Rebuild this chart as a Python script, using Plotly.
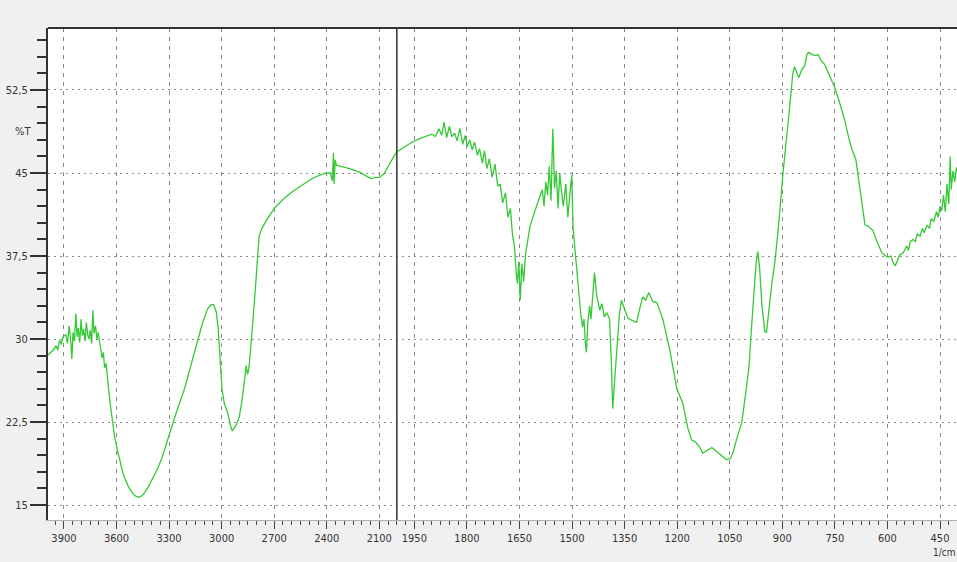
import plotly.graph_objects as go

# FTIR spectrum: wavenumber (1/cm) and transmittance (%T)
wavenumber = [
    3995, 3975, 3960, 3945, 3935, 3925, 3915, 3905, 3890, 3880, 3870, 3862, 3855, 3848,
    3840, 3832, 3825, 3818, 3810, 3802, 3795, 3788, 3780, 3772, 3765, 3757, 3750, 3742,
    3735, 3728, 3720, 3712, 3705, 3697, 3690, 3682, 3675, 3668, 3660, 3652, 3645, 3638,
    3630, 3622, 3612, 3600, 3590, 3580, 3565, 3550, 3530, 3510, 3490, 3470, 3450, 3420,
    3390, 3365, 3340, 3300, 3260, 3212, 3175, 3138, 3110, 3081, 3060, 3045, 3030, 3020,
    3010, 2998, 2985, 2965, 2950, 2940, 2930, 2915, 2900, 2885, 2870, 2860, 2852, 2845,
    2836, 2826, 2815, 2803, 2795, 2786, 2770, 2746, 2720, 2700, 2650, 2597, 2550, 2483,
    2440, 2404, 2380, 2368, 2362, 2358, 2352, 2345, 2319, 2270, 2216, 2180, 2148, 2120,
    2100, 2074, 2050, 2030, 2017, 2000,
    1980, 1956, 1935, 1916, 1900, 1890, 1880, 1872, 1865, 1858, 1850, 1843, 1835, 1828,
    1820, 1812, 1805, 1799, 1792, 1785, 1778, 1770, 1764, 1756, 1750, 1743, 1736, 1728,
    1720, 1712, 1705, 1698, 1690, 1683, 1676, 1670, 1664, 1660, 1656, 1652, 1648, 1643,
    1638, 1633, 1627, 1620, 1610, 1600, 1593, 1585, 1580, 1575, 1570, 1565, 1560, 1555,
    1550, 1545, 1540, 1535, 1530, 1525, 1518, 1512, 1506, 1501, 1497, 1493, 1486, 1480,
    1475, 1470, 1466, 1462, 1459, 1455, 1450, 1446, 1441, 1436, 1430, 1425, 1421, 1415,
    1408, 1401, 1393, 1388, 1384, 1379, 1373, 1365, 1359, 1352, 1346, 1341, 1330, 1316,
    1305, 1298, 1290, 1281, 1270, 1258, 1241, 1221, 1201, 1184, 1170, 1159, 1148, 1137,
    1127, 1115, 1101, 1090, 1075, 1059, 1048, 1040, 1030, 1016, 1005, 995, 988, 982,
    975, 970, 965, 958, 950, 945, 938, 930, 921, 910, 898, 888, 878, 870,
    865, 858, 853, 845, 836, 830, 825, 815, 805, 798, 790, 779, 765, 750,
    736, 722, 710, 701, 690, 680, 673, 664, 655, 641, 630, 616, 605, 598,
    590, 585, 578, 573, 565, 555, 545, 540, 535, 527, 520, 515, 507, 500,
    495, 487, 480, 475, 468, 460, 455, 450, 445, 440, 435, 430, 425, 421,
    418, 413, 408, 403, 400,
]
transmittance = [
    28.5, 28.8, 29.0, 29.4, 29.0, 29.9, 29.5, 30.2, 30.4, 29.6, 31.2, 30.0, 28.2, 30.6,
    29.8, 32.3, 30.2, 31.0, 29.7, 31.8, 30.3, 30.9, 29.8, 31.5, 30.4, 30.0, 30.8, 29.6,
    32.6, 30.5, 31.2, 30.0, 30.6, 29.8, 29.0, 28.3, 28.8, 27.4, 27.8, 26.2, 25.5, 24.4,
    23.2, 22.5, 21.3, 20.2, 19.6, 19.0, 18.0, 17.3, 16.6, 16.1, 15.8, 15.7, 15.9, 16.6,
    17.5, 18.3, 19.3, 21.4, 23.3, 25.5, 27.6, 29.9, 31.4, 32.7, 33.1, 33.1, 32.4, 31.0,
    28.5, 25.5, 24.2, 23.3, 22.2, 21.7, 21.9, 22.3, 22.9, 24.3, 26.2, 27.6, 26.8, 27.3,
    28.8, 30.5, 33.0, 35.5, 37.8, 39.3, 40.0, 40.7, 41.3, 41.8, 42.6, 43.3, 43.8, 44.5,
    44.8, 45.0, 45.0, 44.3, 46.8, 44.0, 46.2, 45.7, 45.6, 45.4, 45.1, 44.8, 44.5, 44.6,
    44.6, 44.9, 45.6, 46.2, 46.5, 46.9,
    47.3, 47.8, 48.1, 48.3, 48.5, 48.3, 49.0, 48.4, 49.6, 48.2, 49.2, 48.3, 48.6, 47.9,
    49.0, 47.6, 48.4, 47.4, 48.0, 47.1, 47.8, 46.6, 47.2, 45.9, 47.0, 45.4, 46.3, 44.6,
    45.8, 43.8, 44.0, 42.3, 43.2, 41.0, 41.8, 39.4, 38.3, 36.2, 35.0, 37.0, 33.5, 36.8,
    35.2, 37.6, 38.8, 40.2, 41.2, 42.2, 42.7, 43.5, 42.0, 44.2, 43.0, 45.6, 42.5, 49.0,
    43.6, 45.2, 41.8, 45.0, 43.3, 42.0, 44.0, 41.0, 43.2, 44.8, 40.0, 38.5, 35.8, 34.0,
    32.2, 31.1, 31.8, 29.6, 28.8, 31.5, 33.0, 31.8, 34.2, 36.0, 34.0, 33.0, 32.6, 33.2,
    32.0, 32.4, 31.8, 28.0, 23.7, 26.0, 29.0, 32.2, 33.5, 32.8, 32.2, 31.9, 31.7, 31.5,
    33.0, 33.8, 33.5, 34.2, 33.4, 33.3, 31.8, 29.0, 25.5, 24.2, 22.0, 20.9, 20.7, 20.3,
    19.7, 19.9, 20.2, 19.9, 19.5, 19.1, 19.2, 19.8, 21.0, 22.4, 25.0, 27.5, 31.0, 34.0,
    36.8, 37.9, 36.5, 33.0, 30.7, 30.6, 33.0, 35.0, 37.0, 40.5, 45.0, 48.5, 51.3, 54.0,
    54.6, 54.0, 53.6, 54.3, 54.7, 55.7, 55.9, 55.7, 55.6, 55.7, 55.2, 54.8, 53.8, 52.7,
    51.3, 49.8, 48.1, 47.1, 46.2, 44.0, 42.6, 40.3, 40.2, 39.8, 38.8, 37.8, 37.5, 37.4,
    37.5, 37.0, 36.6, 37.0, 37.6, 37.8, 38.4, 38.0, 38.8, 39.0, 38.8, 39.5, 39.3, 40.0,
    39.6, 40.3, 40.0, 40.9, 40.6, 41.5, 41.0, 42.0, 41.6, 43.0, 41.5, 44.0, 42.2, 46.5,
    43.5, 45.2, 44.2, 45.5, 45.0,
]

x_ticks_wn = [3900, 3600, 3300, 3000, 2700, 2400, 2100,
              1950, 1800, 1650, 1500, 1350, 1200, 1050, 900, 750, 600, 450]
y_ticks = [15, 22.5, 30, 37.5, 45, 52.5]
y_tick_labels = ["15", "22,5", "30", "37,5", "45", "52,5"]


def to_u(w):
    # split scale: 4000-2000 compressed by 2, 2000-400 linear
    return -(w - 2000) / 2.0 if w >= 2000 else 2000 - w


xu = [to_u(w) for w in wavenumber]
tick_u = [to_u(w) for w in x_ticks_wn]

FONT = "Liberation Sans Narrow, Arial Narrow, DejaVu Sans Condensed, Arial, sans-serif"

fig = go.Figure()
fig.add_trace(go.Scatter(
    x=xu, y=transmittance, mode="lines",
    line=dict(color="#35c935", width=1.3),
    hoverinfo="skip", showlegend=False,
))

fig.update_layout(
    width=957, height=562,
    margin=dict(l=48, r=0, t=28, b=42),
    paper_bgcolor="#f0f0f0",
    plot_bgcolor="white",
    font=dict(family=FONT, size=11, color="#333"),
    xaxis=dict(
        range=[to_u(3991), to_u(401.5)],
        tickmode="array", tickvals=tick_u, ticktext=[str(t) for t in x_ticks_wn],
        ticks="outside", ticklen=8, tickcolor="#444", tickwidth=1,
        showgrid=True, gridcolor="#8a8a8a", gridwidth=1, griddash="4px,5px",
        showline=True, linecolor="#b0b0b0", linewidth=1,
        zeroline=False,
        minor=dict(tick0=0, dtick=25, ticks="outside", ticklen=4,
                   tickcolor="#444", showgrid=False),
        tickfont=dict(family=FONT, size=11, color="#333"),
    ),
    yaxis=dict(
        range=[13.65, 58.1],
        tickmode="array", tickvals=y_ticks, ticktext=y_tick_labels,
        ticks="outside", ticklen=16, tickcolor="#333", tickwidth=2,
        showgrid=True, gridcolor="#8a8a8a", gridwidth=1, griddash="2px,4px",
        showline=True, linecolor="#333", linewidth=2,
        zeroline=False,
        minor=dict(tick0=15, dtick=1.5, ticks="outside", ticklen=9,
                   tickcolor="#333", tickwidth=2, showgrid=False),
        tickfont=dict(family=FONT, size=11, color="#333"),
    ),
    shapes=[
        dict(type="line", xref="paper", yref="paper", x0=0, x1=1, y0=1, y1=1,
             line=dict(color="#333", width=2)),
        dict(type="line", xref="x", yref="paper", x0=0, x1=0, y0=0, y1=1,
             line=dict(color="#333", width=1.5)),
    ],
    annotations=[
        dict(text="%T", xref="paper", yref="paper", x=-0.0275, y=0.789,
             showarrow=False, xanchor="center", yanchor="middle",
             font=dict(family=FONT, size=11, color="#333")),
        dict(text="1/cm", xref="paper", yref="paper", x=1.0, y=-0.067,
             showarrow=False, xanchor="right", yanchor="middle",
             font=dict(family=FONT, size=10, color="#333")),
    ],
)

fig.write_html("out.html")
